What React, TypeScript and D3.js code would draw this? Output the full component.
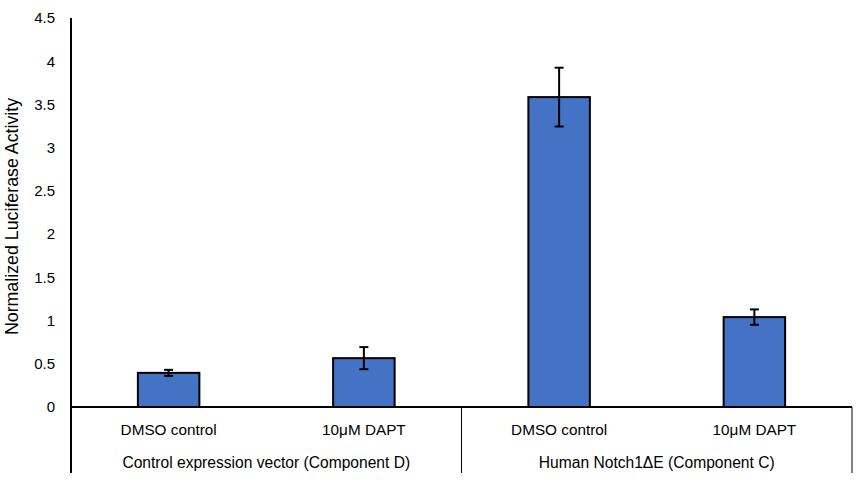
import { useEffect, useRef } from 'react';
import * as d3 from 'd3';

const groups = ['Control expression vector (Component D)', 'Human Notch1ΔE (Component C)'];
const treatments = ['DMSO control', '10μM DAPT'];
const means = [0.395, 0.565, 3.585, 1.04];
const errors = [0.035, 0.128, 0.34, 0.089];
const yTicks = [0, 0.5, 1, 1.5, 2, 2.5, 3, 3.5, 4, 4.5];
const yTitle = 'Normalized Luciferase Activity';

export default function App() {
  const svgRef = useRef<SVGSVGElement>(null);

  useEffect(() => {
    if (!svgRef.current) return;
    const svg = d3.select(svgRef.current);
    svg.selectAll('*').remove();

    const left = 71, right = 852, top = 18, zero = 407, bottom = 473;
    const font = 'Liberation Sans, Arial, sans-serif';

    const y = d3.scaleLinear().domain([0, 4.5]).range([zero, top]);
    const x0 = d3.scaleBand<string>().domain(groups).range([left, right]).padding(0);
    const x1 = d3.scaleBand<string>()
      .domain(treatments)
      .range([0, x0.bandwidth()])
      .paddingInner(0.685)
      .paddingOuter(0.3425);

    const rows = means.map((m, i) => ({
      group: groups[Math.floor(i / treatments.length)],
      treatment: treatments[i % treatments.length],
      mean: m,
      err: errors[i],
    }));

    // y axis labels
    const yAxis = d3.axisLeft(y).tickValues(yTicks).tickSize(0).tickPadding(16).tickFormat(d => String(d));
    const ga = svg.append('g').attr('transform', `translate(${left},0)`).call(yAxis);
    ga.select('.domain').remove();
    ga.selectAll('text').attr('font-family', font).attr('font-size', 15).attr('fill', '#000');

    svg.append('text')
      .attr('transform', `translate(18,${(top + zero) / 2 + 4}) rotate(-90)`)
      .attr('text-anchor', 'middle')
      .attr('font-family', font)
      .attr('font-size', 17.8)
      .attr('fill', '#000')
      .text(yTitle);

    // bars
    svg.append('g').selectAll('rect').data(rows).join('rect')
      .attr('x', d => x0(d.group)! + x1(d.treatment)!)
      .attr('y', d => y(d.mean))
      .attr('width', x1.bandwidth())
      .attr('height', d => y(0) - y(d.mean))
      .attr('fill', '#4472C4')
      .attr('stroke', '#000')
      .attr('stroke-width', 2);

    // error bars
    const eg = svg.append('g').attr('stroke', '#000').attr('stroke-width', 2);
    rows.forEach(d => {
      const cx = x0(d.group)! + x1(d.treatment)! + x1.bandwidth() / 2;
      eg.append('line').attr('x1', cx).attr('x2', cx).attr('y1', y(d.mean + d.err)).attr('y2', y(d.mean - d.err));
      [d.mean + d.err, d.mean - d.err].forEach(v => {
        eg.append('line').attr('x1', cx - 4.5).attr('x2', cx + 4.5).attr('y1', y(v)).attr('y2', y(v));
      });
    });

    // axis lines
    svg.append('line').attr('x1', left).attr('x2', left).attr('y1', top).attr('y2', bottom)
      .attr('stroke', '#000').attr('stroke-width', 2);
    svg.append('line').attr('x1', left - 1).attr('x2', right).attr('y1', zero).attr('y2', zero)
      .attr('stroke', '#000').attr('stroke-width', 2);
    [x0(groups[1])!, right].forEach(px => {
      svg.append('line').attr('x1', px).attr('x2', px).attr('y1', zero).attr('y2', bottom)
        .attr('stroke', '#000').attr('stroke-width', 1);
    });

    // category labels
    rows.forEach(d => {
      svg.append('text')
        .attr('x', x0(d.group)! + x1(d.treatment)! + x1.bandwidth() / 2)
        .attr('y', 435)
        .attr('text-anchor', 'middle')
        .attr('font-family', font)
        .attr('font-size', 15.3)
        .attr('fill', '#000')
        .text(d.treatment);
    });
    groups.forEach(g => {
      svg.append('text')
        .attr('x', x0(g)! + x0.bandwidth() / 2)
        .attr('y', 468)
        .attr('text-anchor', 'middle')
        .attr('font-family', font)
        .attr('font-size', 15.6)
        .attr('fill', '#000')
        .text(g);
    });
  }, []);

  return (
    <svg
      ref={svgRef}
      width={863}
      height={495}
      style={{ position: 'absolute', left: 0, top: 0, background: '#fff' }}
    />
  );
}
